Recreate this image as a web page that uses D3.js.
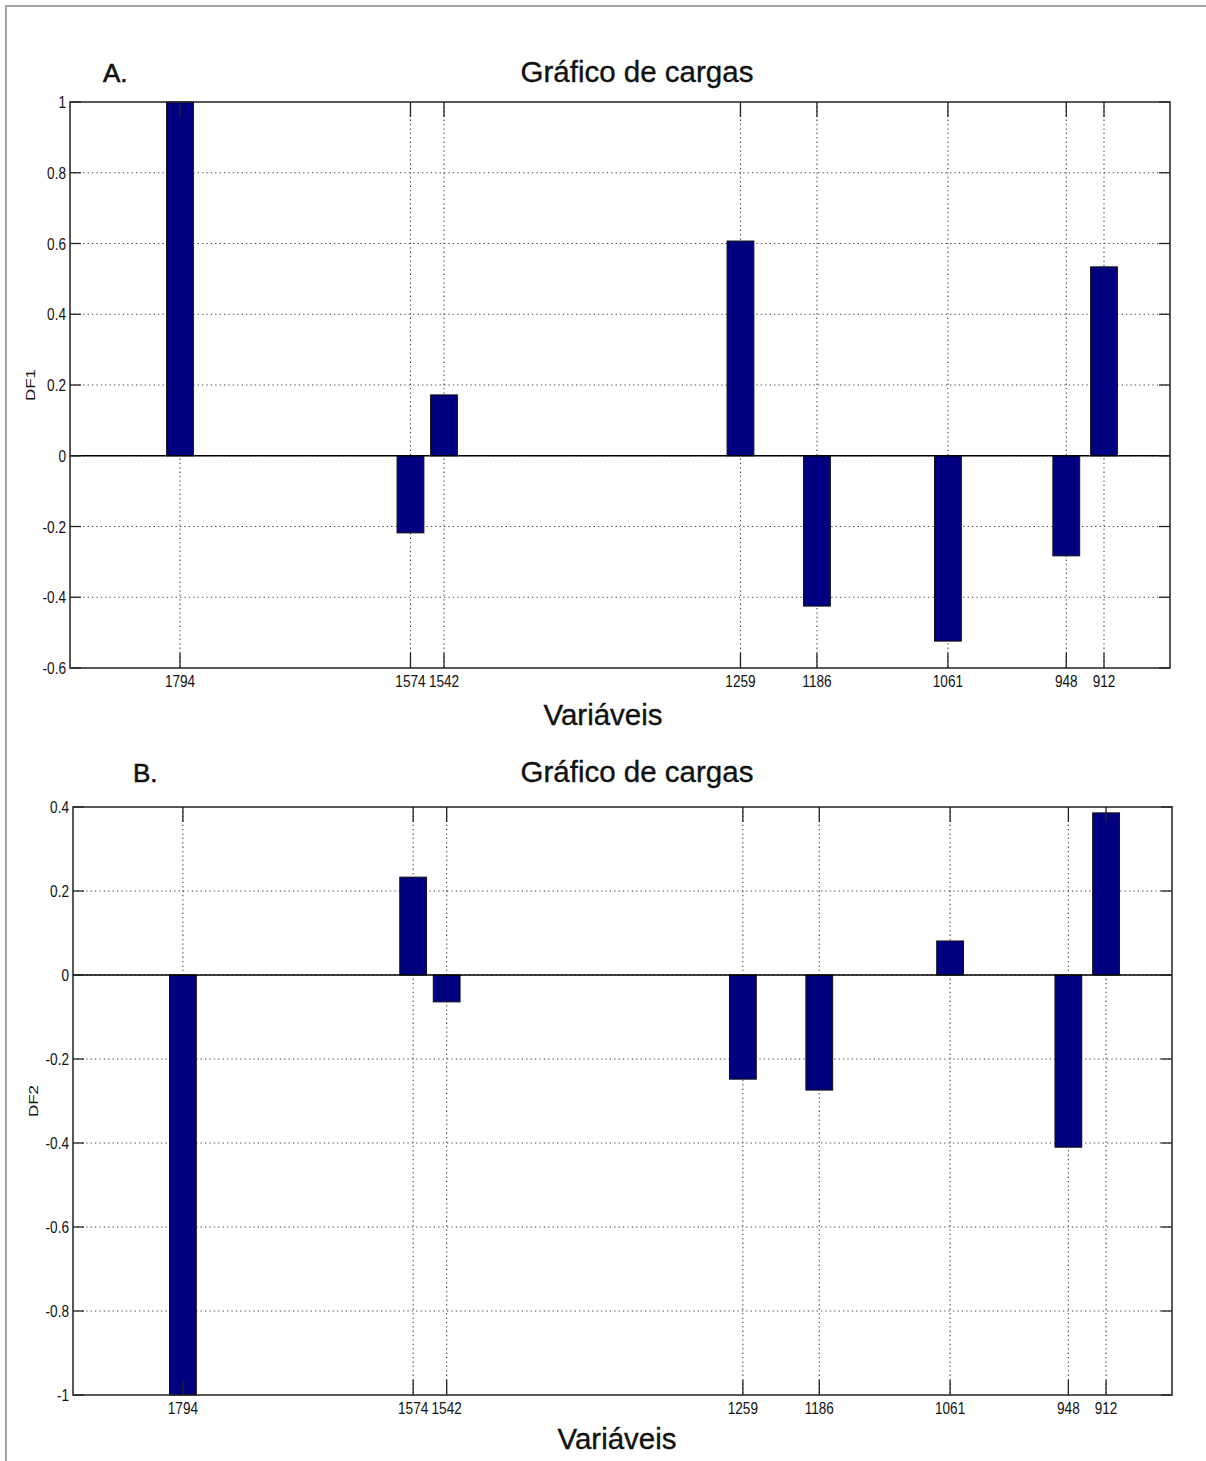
<!DOCTYPE html>
<html>
<head>
<meta charset="utf-8">
<script src="https://cdn.jsdelivr.net/npm/d3@7"></script>
<style>
  html, body { margin: 0; padding: 0; background: #fff; }
  svg { display: block; }
  text { font-family: "Liberation Sans", Arial, sans-serif; fill: #111; }
</style>
</head>
<body>
<script>
// Wavenumbers (cm-1) selected as variables
const wavenumbers = [1794, 1574, 1542, 1259, 1186, 1061, 948, 912];
// Loadings on the first and second discriminant functions
const df1Loadings = [1.0, -0.218, 0.172, 0.607, -0.425, -0.524, -0.283, 0.534];
const df2Loadings = [-1.0, 0.233, -0.064, -0.248, -0.274, 0.081, -0.41, 0.386];
// Y tick values
const df1Ticks = [-0.6, -0.4, -0.2, 0, 0.2, 0.4, 0.6, 0.8, 1];
const df2Ticks = [-1, -0.8, -0.6, -0.4, -0.2, 0, 0.2, 0.4];
const xDomain = [1899, 849];
const barWidthUnits = 25.6;

const W = 1206, H = 1461;
const svg = d3.select("body").append("svg").attr("width", W).attr("height", H);

// outer frame (top and left edges)
svg.append("line").attr("x1", 5).attr("x2", W).attr("y1", 6).attr("y2", 6)
  .attr("stroke", "#a3a3a3").attr("stroke-width", 2);
svg.append("line").attr("x1", 6).attr("x2", 6).attr("y1", 6).attr("y2", H)
  .attr("stroke", "#a3a3a3").attr("stroke-width", 2);

const fmt = d => d === 0 ? "0" : String(+d.toFixed(1));

function panel(cfg) {
  const { left, right, top, bottom, yDomain, ticks, values, letter, letterX, titleY, xlabelX, xlabelY, ylabel } = cfg;
  const g = svg.append("g");
  const x = d3.scaleLinear().domain(xDomain).range([left, right]);
  const y = d3.scaleLinear().domain(yDomain).range([bottom, top]);

  // grid lines
  g.selectAll(".gy").data(ticks.filter(t => t !== yDomain[0] && t !== yDomain[1])).join("line")
    .attr("x1", left).attr("x2", right)
    .attr("y1", d => y(d)).attr("y2", d => y(d))
    .attr("stroke", "#444").attr("stroke-width", 1.1).attr("stroke-dasharray", "1.3,3.1");
  g.selectAll(".gx").data(wavenumbers).join("line")
    .attr("x1", d => x(d)).attr("x2", d => x(d))
    .attr("y1", top).attr("y2", bottom)
    .attr("stroke", "#444").attr("stroke-width", 1.1).attr("stroke-dasharray", "1.3,3.1");

  // bars
  g.selectAll(".bar").data(wavenumbers.map((w, i) => ({ w, v: values[i] }))).join("rect")
    .attr("x", d => x(d.w + barWidthUnits / 2))
    .attr("width", d => x(d.w - barWidthUnits / 2) - x(d.w + barWidthUnits / 2))
    .attr("y", d => y(Math.max(0, d.v)))
    .attr("height", d => Math.abs(y(d.v) - y(0)))
    .attr("fill", "#000080").attr("stroke", "#111").attr("stroke-width", 1);

  // baseline at zero
  g.append("line").attr("x1", left).attr("x2", right).attr("y1", y(0)).attr("y2", y(0))
    .attr("stroke", "#000").attr("stroke-width", 1.4);

  // axes box
  g.append("rect").attr("x", left).attr("y", top).attr("width", right - left).attr("height", bottom - top)
    .attr("fill", "none").attr("stroke", "#222").attr("stroke-width", 1.5);

  // inward ticks
  const yt = 11, xt = 15;
  ticks.forEach(t => {
    g.append("line").attr("x1", left).attr("x2", left + yt).attr("y1", y(t)).attr("y2", y(t))
      .attr("stroke", "#222").attr("stroke-width", 1.3);
    g.append("line").attr("x1", right).attr("x2", right - yt).attr("y1", y(t)).attr("y2", y(t))
      .attr("stroke", "#222").attr("stroke-width", 1.3);
  });
  wavenumbers.forEach(w => {
    g.append("line").attr("x1", x(w)).attr("x2", x(w)).attr("y1", bottom).attr("y2", bottom - xt)
      .attr("stroke", "#222").attr("stroke-width", 1.3);
    g.append("line").attr("x1", x(w)).attr("x2", x(w)).attr("y1", top).attr("y2", top + xt)
      .attr("stroke", "#222").attr("stroke-width", 1.3);
  });

  // tick labels (narrow axis font)
  g.selectAll(".yl").data(ticks).join("text")
    .attr("transform", d => `translate(${left - 4},${y(d) + 6}) scale(0.8,1)`)
    .attr("text-anchor", "end").attr("font-size", 17).attr("fill", "#222").text(fmt);
  g.selectAll(".xl").data(wavenumbers).join("text")
    .attr("transform", d => `translate(${x(d)},${bottom + 19}) scale(0.8,1)`)
    .attr("text-anchor", "middle").attr("font-size", 17).attr("fill", "#222").text(d => d);

  // labels
  g.append("text").attr("x", 637).attr("y", titleY).attr("text-anchor", "middle")
    .attr("font-size", 29.5).attr("stroke", "#111").attr("stroke-width", 0.35).text("Gráfico de cargas");
  g.append("text").attr("x", letterX).attr("y", titleY).attr("font-size", 26)
    .attr("stroke", "#111").attr("stroke-width", 0.6).text(letter);
  g.append("text").attr("x", xlabelX).attr("y", xlabelY).attr("text-anchor", "middle")
    .attr("font-size", 29.5).attr("stroke", "#111").attr("stroke-width", 0.35).text("Variáveis");
  g.append("text")
    .attr("transform", `translate(${cfg.ylabelX},${(top + bottom) / 2}) rotate(-90) scale(1,0.8)`)
    .attr("text-anchor", "middle").attr("font-size", 17).attr("fill", "#222").text(ylabel);
}

panel({
  left: 70, right: 1170, top: 102, bottom: 668,
  yDomain: [-0.6, 1], ticks: df1Ticks, values: df1Loadings,
  letter: "A.", letterX: 103, titleY: 82,
  xlabelX: 603, xlabelY: 725, ylabel: "DF1", ylabelX: 35
});

panel({
  left: 73, right: 1172, top: 807, bottom: 1395,
  yDomain: [-1, 0.4], ticks: df2Ticks, values: df2Loadings,
  letter: "B.", letterX: 133, titleY: 782,
  xlabelX: 617, xlabelY: 1449, ylabel: "DF2", ylabelX: 38
});
</script>
</body>
</html>
